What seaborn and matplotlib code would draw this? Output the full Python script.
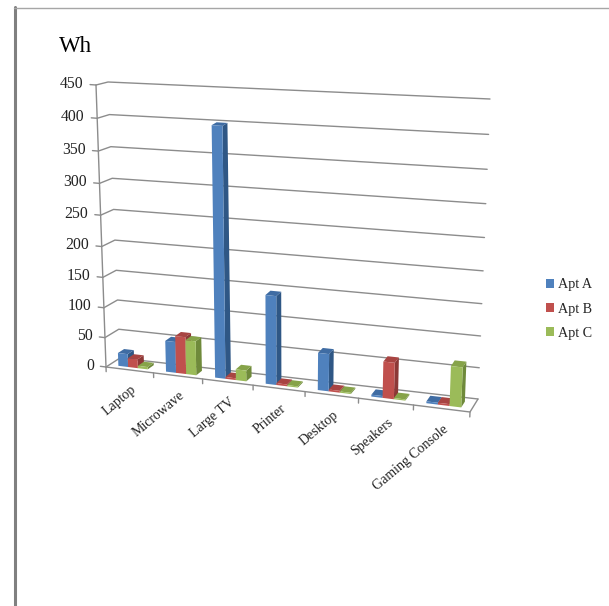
import numpy as np
import pandas as pd
import matplotlib
matplotlib.use("Agg")
import matplotlib.pyplot as plt
from matplotlib.patches import Polygon
from matplotlib.transforms import Transform
import seaborn as sns

categories = ["Laptop", "Microwave", "Large TV", "Printer", "Desktop", "Speakers", "Gaming Console"]
apt_a = [22, 52, 400, 145, 61, 3, 3]
apt_b = [15, 62, 3, 3, 3, 59, 3]
apt_c = [4, 57, 18, 2, 2, 2, 64]
y_ticks = [0, 50, 100, 150, 200, 250, 300, 350, 400, 450]

W, H = 609, 606
Y_TOP = 450
# pixel corners of the fake 3d box: front plane then back wall
FRONT = {"bl": (106, 367), "br": (470, 412), "tl": (96, 85), "tr": (482, 112)}
BACK = {"bl": (120, 358), "br": (478, 399), "tl": (108, 82), "tr": (490, 99)}
BAR_D0, BAR_D1 = 0.25, 0.7
# foreshortening, things get wider and taller away from the floor-left corner
BEND_X, BEND_Y = 0.9, 0.93

GRID = "#8c8c8c"
FACE = ["#4F81BD", "#C0504D", "#9BBB59"]
SIDE = ["#2F5785", "#8C3836", "#6F8A3B"]
TOP = ["#3F6CA3", "#A84442", "#86A349"]


def corners(c, u, v):
    out = []
    for k in range(2):
        bottom = c["bl"][k] + u * (c["br"][k] - c["bl"][k])
        top = c["tl"][k] + u * (c["tr"][k] - c["tl"][k])
        out.append(bottom + v * (top - bottom))
    return np.array(out)


def place(x, y, d=0.0):
    # category position, value and depth -> figure fraction
    x, y = np.asarray(x, float), np.asarray(y, float)
    u = (x + 0.5) / len(categories)
    v = y / Y_TOP
    u = u * (BEND_X + (1 - BEND_X) * u)
    v = v * (BEND_Y + (1 - BEND_Y) * v)
    p = corners(FRONT, u, v) * (1 - d) + corners(BACK, u, v) * d
    return np.column_stack([np.atleast_1d(p[0]) / W, 1 - np.atleast_1d(p[1]) / H])


class Wall(Transform):
    input_dims = 2
    output_dims = 2

    def __init__(self, wall_depth):
        super().__init__()
        self.wall_depth = wall_depth

    def transform_non_affine(self, values):
        values = np.asarray(values)
        return place(values[:, 0], values[:, 1], self.wall_depth)


df = pd.DataFrame({
    "item": categories * 3,
    "apt": ["Apt A"] * 7 + ["Apt B"] * 7 + ["Apt C"] * 7,
    "wh": apt_a + apt_b + apt_c,
})

sns.set_style("white")
plt.rcParams["font.family"] = ["Liberation Serif", "DejaVu Serif"]

fig = plt.figure(figsize=(W / 100, H / 100), dpi=100)
ax = fig.add_axes([0, 0, 1, 1])
sns.barplot(data=df, x="item", y="wh", hue="apt", order=categories, palette=FACE,
            saturation=1, width=0.62, linewidth=0, ax=ax)
ax.set_axis_off()

tf = fig.transFigure
front_tr = Wall(BAR_D0) + tf
axis_tr = Wall(0.0) + tf


def line(pts, lw=1.0, color=GRID, z=1):
    xy = np.vstack([place(*p) for p in pts])
    ax.plot(xy[:, 0], xy[:, 1], color=color, lw=lw, transform=tf, clip_on=False, zorder=z)


# walls and floor
for v in y_ticks:
    line([(-0.5, v, 0), (-0.5, v, 1), (6.5, v, 1)])
    line([(-0.5, v, 0), (-0.62, v, 0)])
    ax.text(-0.76, v, str(v), transform=axis_tr, ha="right", va="center",
            fontsize=11.3, color="#222222", clip_on=False)
line([(-0.5, 0, 0), (-0.5, Y_TOP, 0)])
line([(-0.5, 0, 0), (6.5, 0, 0), (6.5, 0, 1)])
for i in range(len(categories) + 1):
    line([(i - 0.5, 0, 0), (i - 0.5, -8, 0)])

# bars, left to right so the next front face covers the previous side face
for n, rect in enumerate(sorted(ax.patches, key=lambda r: r.get_x())):
    idx = FACE.index(matplotlib.colors.to_hex(rect.get_facecolor()).upper())
    x0, x1, h = rect.get_x(), rect.get_x() + rect.get_width(), rect.get_height()
    z = 5 + n
    side = np.vstack([place(x1, 0, BAR_D0), place(x1, h, BAR_D0), place(x1, h, BAR_D1), place(x1, 0, BAR_D1)])
    top = np.vstack([place(x0, h, BAR_D0), place(x1, h, BAR_D0), place(x1, h, BAR_D1), place(x0, h, BAR_D1)])
    ax.add_patch(Polygon(side, transform=tf, fc=SIDE[idx], ec="none", zorder=z, clip_on=False))
    ax.add_patch(Polygon(top, transform=tf, fc=TOP[idx], ec="none", zorder=z, clip_on=False))
    rect.set_transform(front_tr)
    rect.set_clip_on(False)
    rect.set_zorder(z + 0.5)

for i, name in enumerate(categories):
    ax.text(i + 0.1, -30, name, transform=axis_tr, rotation=40, rotation_mode="anchor",
            ha="right", va="center", fontsize=10, color="#222222", clip_on=False)

sns.move_legend(ax, "center left", bbox_to_anchor=(536 / W, 1 - 309 / H), bbox_transform=tf,
                frameon=False, title=None, fontsize=10.2, handlelength=0.55, handleheight=0.55,
                handletextpad=0.3, labelspacing=0.78, borderpad=0.2)

fig.text(59 / W, 1 - 52 / H, "Wh", fontsize=16.5, color="black", ha="left", va="baseline")

# page edges around the pasted chart
fig.add_artist(plt.Line2D([14.5 / W, 14.5 / W], [0, 1 - 7 / H], color="#808080", lw=2.2))
fig.add_artist(plt.Line2D([14 / W, 1], [1 - 7.5 / H, 1 - 7.5 / H], color="#a6a6a6", lw=1))

fig.savefig("out.png", dpi=100, facecolor="white")
